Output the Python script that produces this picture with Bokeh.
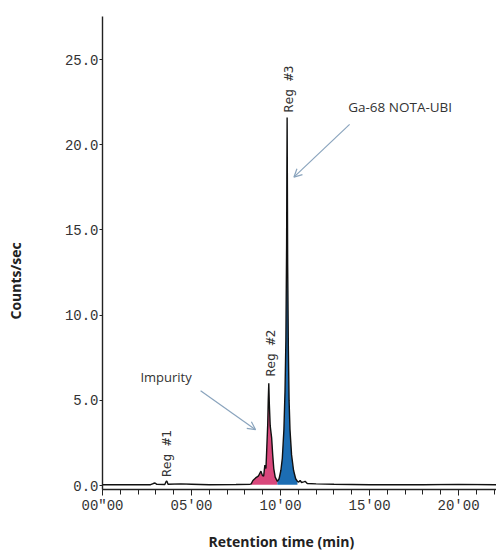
import math
from bokeh.plotting import figure
from bokeh.models import Range1d, FixedTicker, Label, Arrow, OpenHead, Title
from bokeh.embed import file_html
from bokeh.resources import INLINE

# ---- data ----
base_pre_t = [0.0, 1.5, 2.7, 2.85, 2.95, 3.05, 3.5, 3.58, 3.62, 3.68, 4.4, 5.0, 6.0, 7.5, 8.3]
base_pre_y = [0.05, 0.05, 0.05, 0.12, 0.15, 0.07, 0.06, 0.25, 0.25, 0.08, 0.1, 0.08, 0.05, 0.06, 0.08]

pink_t = [8.35, 8.45, 8.6, 8.75, 8.9, 8.98, 9.05, 9.12, 9.18, 9.22, 9.28, 9.31, 9.34, 9.37, 9.42, 9.5, 9.56, 9.62, 9.7, 9.82]
pink_y = [0.1, 0.3, 0.45, 0.55, 0.85, 0.6, 0.55, 1.2, 1.0, 2.0, 3.6, 5.0, 6.0, 4.8, 3.5, 2.8, 1.8, 1.0, 0.5, 0.25]

blue_t = [9.82, 9.92, 10.02, 10.10, 10.19, 10.25, 10.30, 10.34, 10.355, 10.37, 10.385, 10.40, 10.44, 10.48, 10.53, 10.62, 10.73, 10.85, 10.95]
blue_y = [0.25, 0.4, 0.9, 1.6, 3.3, 5.5, 8.5, 14.0, 18.0, 21.6, 17.5, 13.0, 8.0, 5.0, 3.3, 1.8, 0.9, 0.4, 0.25]

base_post_t = [11.02, 11.1, 11.18, 11.3, 11.38, 11.5, 12.0, 13.0, 15.0, 18.0, 20.0, 22.2]
base_post_y = [0.2, 0.3, 0.18, 0.22, 0.25, 0.12, 0.1, 0.08, 0.05, 0.05, 0.07, 0.05]

x_ticks = [0, 5, 10, 15, 20]
x_tick_labels = ['00"00', "05'00", "10'00", "15'00", "20'00"]
x_minor = list(range(0, 23))
y_ticks = [0, 5, 10, 15, 20, 25]
y_tick_labels = ["0.0", "5.0", "10.0", "15.0", "20.0", "25.0"]

peak_labels = ["Reg #1", "Reg #2", "Reg #3"]
peak_label_x = [3.6, 9.44, 10.45]
peak_label_y = [0.5, 6.4, 21.9]

trace_t = base_pre_t + pink_t + blue_t[1:] + base_post_t
trace_y = base_pre_y + pink_y + blue_y[1:] + base_post_y

# ---- figure ----
p = figure(width=496, height=550, output_backend="svg", toolbar_location=None,
           x_range=Range1d(0, 22.13), y_range=Range1d(-0.23, 27.53),
           min_border_left=102, min_border_right=0, min_border_top=16, min_border_bottom=60)
p.outline_line_color = None
p.xgrid.grid_line_color = None
p.ygrid.grid_line_color = None
p.background_fill_color = "white"
p.border_fill_color = "white"

# fills
p.varea(x=pink_t, y1=[0.05] * len(pink_t), y2=pink_y, fill_color="#d9487c", fill_alpha=1.0)
p.varea(x=blue_t, y1=[0.05] * len(blue_t), y2=blue_y, fill_color="#1c6db3", fill_alpha=1.0)
# trace
p.line(trace_t, trace_y, line_color="#111111", line_width=1.4)

# axes
for ax in (p.xaxis[0], p.yaxis[0]):
    ax.axis_line_color = "#222222"
    ax.axis_line_width = 1.4
    ax.major_tick_line_color = "#222222"
    ax.major_label_text_font = "Liberation Mono"
    ax.major_label_text_font_size = "14px"
    ax.major_label_text_color = "#333333"
    # blank spacer label to push the titles outward
    ax.axis_label = " "
    ax.axis_label_text_font_size = "1px"

p.xaxis.ticker = FixedTicker(ticks=x_ticks, minor_ticks=x_minor)
p.xaxis.major_label_overrides = {t: l for t, l in zip(x_ticks, x_tick_labels)}
p.xaxis.major_tick_out = 6
p.xaxis.major_tick_in = 0
p.xaxis.minor_tick_out = 5
p.xaxis.minor_tick_in = 0
p.xaxis.minor_tick_line_color = "#222222"
p.xaxis.major_label_standoff = 2
p.xaxis.axis_label_standoff = 9

p.yaxis.ticker = FixedTicker(ticks=y_ticks, minor_ticks=[])
p.yaxis.major_label_overrides = {t: l for t, l in zip(y_ticks, y_tick_labels)}
p.yaxis.major_tick_out = 3
p.yaxis.major_tick_in = 0
p.yaxis.minor_tick_line_color = None
p.yaxis.major_label_standoff = 1
p.yaxis.axis_label_standoff = 33

# peak labels
for txt, lx, ly in zip(peak_labels, peak_label_x, peak_label_y):
    p.add_layout(Label(x=lx, y=ly, text=txt, angle=math.pi / 2, text_align="left",
                       text_baseline="middle", text_font="DejaVu Sans Mono",
                       text_font_size="13px", text_color="#333333"))

# annotations
p.add_layout(Label(x=2.13, y=6.39, text="Impurity", text_align="left", text_baseline="middle",
                   text_font="Open Sans", text_font_size="13px", text_color="#333333"))
p.add_layout(Arrow(x_start=5.51, y_start=5.57, x_end=8.6, y_end=3.28,
                   line_color="#8aa4bd", line_width=1.2,
                   end=OpenHead(size=8, line_color="#8aa4bd", line_width=1.2)))
p.add_layout(Label(x=13.8, y=22.2, text="Ga-68 NOTA-UBI", text_align="left", text_baseline="middle",
                   text_font="Open Sans", text_font_size="13.5px", text_color="#333333"))
p.add_layout(Arrow(x_start=13.88, y_start=21.2, x_end=10.75, y_end=18.1,
                   line_color="#8aa4bd", line_width=1.2,
                   end=OpenHead(size=8, line_color="#8aa4bd", line_width=1.2)))

# axis titles
p.add_layout(Title(text="Counts/sec", align="left", offset=170, standoff=0,
                   text_font="Open Sans", text_font_style="bold",
                   text_font_size="14px", text_color="#222222"), "left")
p.add_layout(Title(text="Retention time (min)", align="left", offset=106, standoff=0,
                   text_font="Open Sans", text_font_style="bold",
                   text_font_size="14px", text_color="#222222"), "below")

open("out.html", "w").write(file_html(p, INLINE))
